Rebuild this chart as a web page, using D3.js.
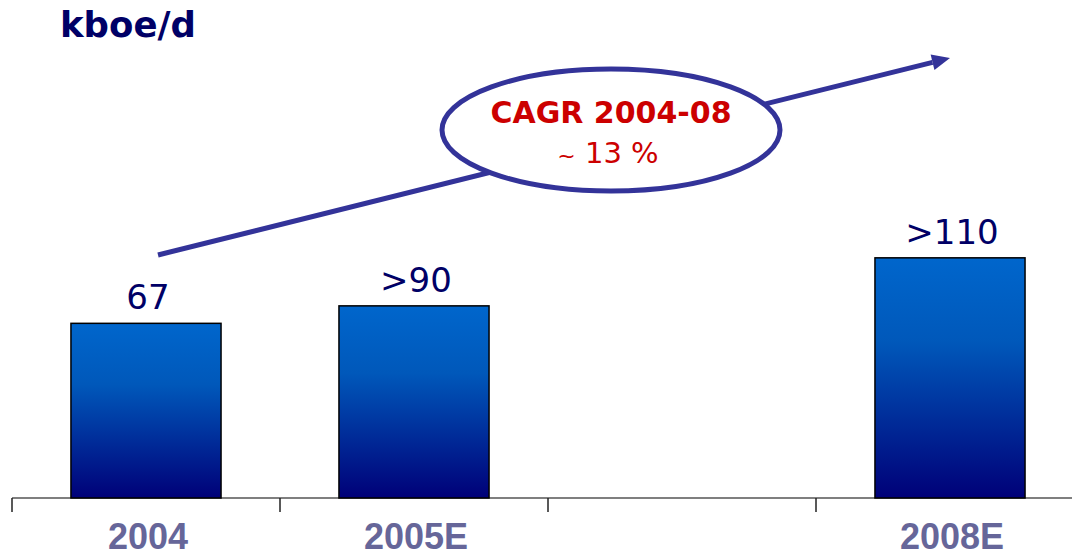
<!DOCTYPE html>
<html><head><meta charset="utf-8">
<script src="https://cdn.jsdelivr.net/npm/d3@7"></script>
<style>html,body{margin:0;padding:0;background:#fff;}</style>
</head><body>
<svg id="chart" width="1072" height="557"></svg>
<script>
// Data
const categories = ["2004", "2005E", "2006E", "2008E"];
const tickLabels = ["2004", "2005E", "", "2008E"];
const barValues = [80, 88, null, 110];
const valueLabels = ["67", ">90", "", ">110"];
const unitLabel = "kboe/d";
const cagrTitle = "CAGR 2004-08";
const cagrValue = ["~", " 13 %"];

const svg = d3.select("#chart");
const baseY = 498;
const x = d3.scaleBand().domain(categories).range([12, 1084]).paddingInner(0.44).paddingOuter(0.22);
const y = d3.scaleLinear().domain([0, 120]).range([baseY, baseY - 262]);

const defs = svg.append("defs");
const grad = defs.append("linearGradient").attr("id", "barGrad").attr("x1", 0).attr("y1", 0).attr("x2", 0).attr("y2", 1);
grad.append("stop").attr("offset", "0%").attr("stop-color", "#0066CC");
grad.append("stop").attr("offset", "35%").attr("stop-color", "#0058BA");
grad.append("stop").attr("offset", "100%").attr("stop-color", "#000078");

// Title
svg.append("text").attr("x", 60).attr("y", 37)
  .attr("font-family", "DejaVu Sans").attr("font-weight", "bold").attr("font-size", 35.5)
  .attr("fill", "#000066").text(unitLabel);

// Axis baseline and ticks at band boundaries
svg.append("line").attr("x1", 12).attr("x2", 1072).attr("y1", baseY).attr("y2", baseY)
  .attr("stroke", "#555").attr("stroke-width", 1.5);
const step = x.step();
categories.forEach((c) => {
  const tx = x(c) - step * x.paddingInner() / 2;
  svg.append("line").attr("x1", tx).attr("x2", tx).attr("y1", baseY).attr("y2", baseY + 14)
    .attr("stroke", "#222").attr("stroke-width", 1.5);
});

// Category labels
svg.selectAll("text.cat").data(categories).enter().append("text").attr("class", "cat")
  .attr("x", d => x(d) + x.bandwidth() / 2 + 2).attr("y", 549)
  .attr("text-anchor", "middle")
  .attr("font-family", "Liberation Sans").attr("font-weight", "bold").attr("font-size", 36)
  .attr("fill", "#666699").text((d, i) => tickLabels[i]);

// Bars
const barData = categories.map((c, i) => ({ c, v: barValues[i], l: valueLabels[i] })).filter(d => d.v != null);
svg.selectAll("rect.bar").data(barData).enter().append("rect").attr("class", "bar")
  .attr("x", d => x(d.c)).attr("width", x.bandwidth())
  .attr("y", d => y(d.v)).attr("height", d => y(0) - y(d.v))
  .attr("fill", "url(#barGrad)").attr("stroke", "#000").attr("stroke-width", 1.5);

// Value labels
svg.selectAll("text.val").data(barData).enter().append("text").attr("class", "val")
  .attr("x", d => x(d.c) + x.bandwidth() / 2 + 2).attr("y", d => y(d.v) - 14)
  .attr("text-anchor", "middle")
  .attr("font-family", "DejaVu Sans").attr("font-size", 34)
  .attr("fill", "#000066").text(d => d.l);

// Growth arrow
const ax1 = 158, ay1 = 255, ax2 = 950, ay2 = 58;
const ang = Math.atan2(ay2 - ay1, ax2 - ax1);
const headLen = 18, headW = 8;
const bx = ax2 - headLen * Math.cos(ang), by = ay2 - headLen * Math.sin(ang);
svg.append("line").attr("x1", ax1).attr("y1", ay1).attr("x2", bx).attr("y2", by)
  .attr("stroke", "#333399").attr("stroke-width", 5);
svg.append("polygon")
  .attr("points", [
    [ax2, ay2],
    [bx + headW * Math.sin(ang), by - headW * Math.cos(ang)],
    [bx - headW * Math.sin(ang), by + headW * Math.cos(ang)]
  ].map(p => p.join(",")).join(" "))
  .attr("fill", "#333399");

// CAGR ellipse
svg.append("ellipse").attr("cx", 611).attr("cy", 130).attr("rx", 169).attr("ry", 61)
  .attr("fill", "#fff").attr("stroke", "#333399").attr("stroke-width", 5);
svg.append("text").attr("x", 611).attr("y", 123).attr("text-anchor", "middle")
  .attr("font-family", "DejaVu Sans").attr("font-weight", "bold").attr("font-size", 30)
  .attr("fill", "#CC0000").text(cagrTitle);
const t2 = svg.append("text").attr("x", 608).attr("y", 163).attr("text-anchor", "middle")
  .attr("fill", "#CC0000").attr("font-family", "DejaVu Sans");
t2.append("tspan").attr("font-size", 22).text(cagrValue[0]);
t2.append("tspan").attr("font-size", 29).text(cagrValue[1]);
</script>
</body></html>
